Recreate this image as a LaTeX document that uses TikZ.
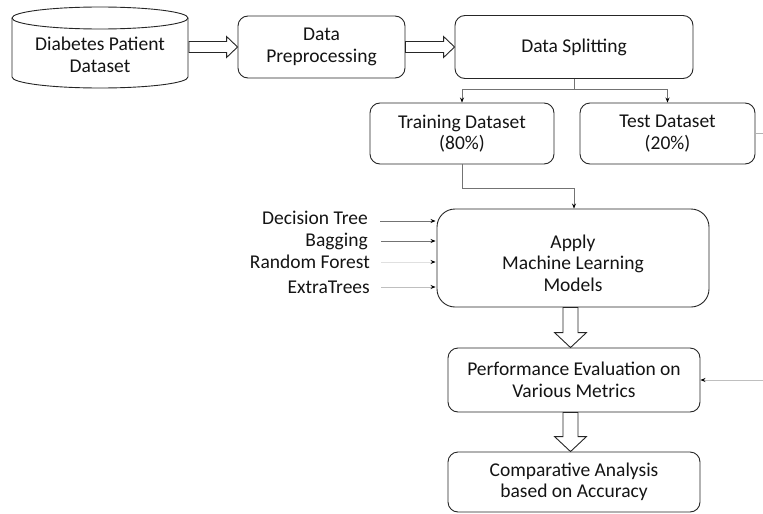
\documentclass[tikz,border=0pt]{standalone}
\usepackage{fontspec}
\setmainfont{Carlito}
\usetikzlibrary{arrows.meta,calc}
\newcommand\hollowH[2]{\draw[hol] let \p1=(#1), \p2=(#2) in
  (\x1,\y2+5.5pt) -- (\x2-11pt,\y2+5.5pt) -- (\x2-11pt,\y2+10.5pt) -- (\x2,\y2)
  -- (\x2-11pt,\y2-10.5pt) -- (\x2-11pt,\y2-5.5pt) -- (\x1,\y2-5.5pt) -- cycle;}
\newcommand\hollowV[2]{\draw[hol] let \p1=(#1), \p2=(#2) in
  (\x2-7.5pt,\y1) -- (\x2-7.5pt,\y2+15pt) -- (\x2-16pt,\y2+15pt) -- (\x2,\y2)
  -- (\x2+16pt,\y2+15pt) -- (\x2+7.5pt,\y2+15pt) -- (\x2+7.5pt,\y1) -- cycle;}
\begin{document}
\begin{tikzpicture}[x=1pt,y=-1pt,
  txt/.style={text=black!92, font=\fontsize{19.5}{21.5}\selectfont, align=center, inner sep=0pt},
  box/.style={txt, draw=black!85, line width=0.9pt, rounded corners=10pt, fill=white},
  hol/.style={draw=black!85, line width=0.9pt, fill=white},
  conn/.style={draw=black!55, line width=0.7pt, -{Stealth[length=5pt,width=4pt,color=black]}},
  faint/.style={draw=black!12, line width=0.7pt, -{Stealth[length=5pt,width=4pt,color=black]}},
  light/.style={draw=black!25, line width=0.7pt, -{Stealth[length=5pt,width=4pt,color=black]}}]
\useasboundingbox (0,0) rectangle (763,514);
% cylinder
\draw[hol] (12,18) -- (12,77) .. controls (12,83.1) and (51.4,88) .. (100,88)
  .. controls (148.6,88) and (188,83.1) .. (188,77) -- (188,18);
\draw[hol] (100,18) ellipse [x radius=88pt, y radius=11pt];
\node[txt] (db) at (100,55) {Diabetes Patient\\Dataset};
\coordinate (dbR) at (189,48);
% boxes
\node[box, minimum width=167pt, minimum height=62pt] (pre) at (321.5,47) {Data\\Preprocessing};
\node[box, minimum width=238pt, minimum height=63pt] (split) at (574,47) {Data Splitting};
\node[box, minimum width=184pt, minimum height=61pt] (train) at (462,133.5) {Training Dataset\\(80\%)};
\node[box, minimum width=175pt, minimum height=61pt] (test) at (667.5,133.5) {Test Dataset\\(20\%)};
\node[box, rounded corners=18pt, minimum width=272pt, minimum height=98pt, text height=67pt] (apply) at (573,258) {Apply\\Machine Learning\\Models};
\node[box, minimum width=252pt, minimum height=64pt] (perf) at (574,380) {Performance Evaluation on\\Various Metrics};
\node[box, minimum width=252pt, minimum height=60pt] (comp) at (574,482) {Comparative Analysis\\based on Accuracy};
% hollow arrows
\hollowH{dbR}{pre.west}
\hollowH{pre.east}{split.west}
\hollowV{apply.south}{[xshift=-3.5pt]perf.north}
\hollowV{perf.south}{[xshift=-3.5pt]comp.north}
% splitting connectors
\coordinate (fork) at (574,89);
\draw[conn] (split.south) -- (fork) -| (train.north);
\draw[conn] (fork) -| (test.north);
\coordinate (bend) at (462,188);
\draw[conn] (train.south) -- (bend) -| ([xshift=1pt]apply.north);
% right stubs
\coordinate (testR) at (763,133.5);
\draw[draw=black!30, line width=0.7pt] (test.east) -- (testR);
\coordinate (perfR) at (763,380);
\draw[light] (perfR) -- (perf.east);
% model labels
\node[txt, anchor=east] (dt) at (368,218) {Decision Tree};
\node[txt, anchor=east] (bg) at (368,241) {Bagging};
\node[txt, anchor=east] (rf) at (370,262) {Random Forest};
\node[txt, anchor=east] (et) at (370,287) {ExtraTrees};
\draw[conn] ([xshift=12pt,yshift=-3pt]dt.east) -- ([xshift=-1pt,yshift=-3pt]apply.west |- dt.east);
\draw[conn] ([xshift=13pt]bg.east) -- ([xshift=-1pt]apply.west |- bg.east);
\draw[faint] ([xshift=11pt]rf.east) -- ([xshift=-1pt]apply.west |- rf.east);
\draw[light] ([xshift=11pt]et.east) -- ([xshift=-1pt]apply.west |- et.east);
\end{tikzpicture}
\end{document}
